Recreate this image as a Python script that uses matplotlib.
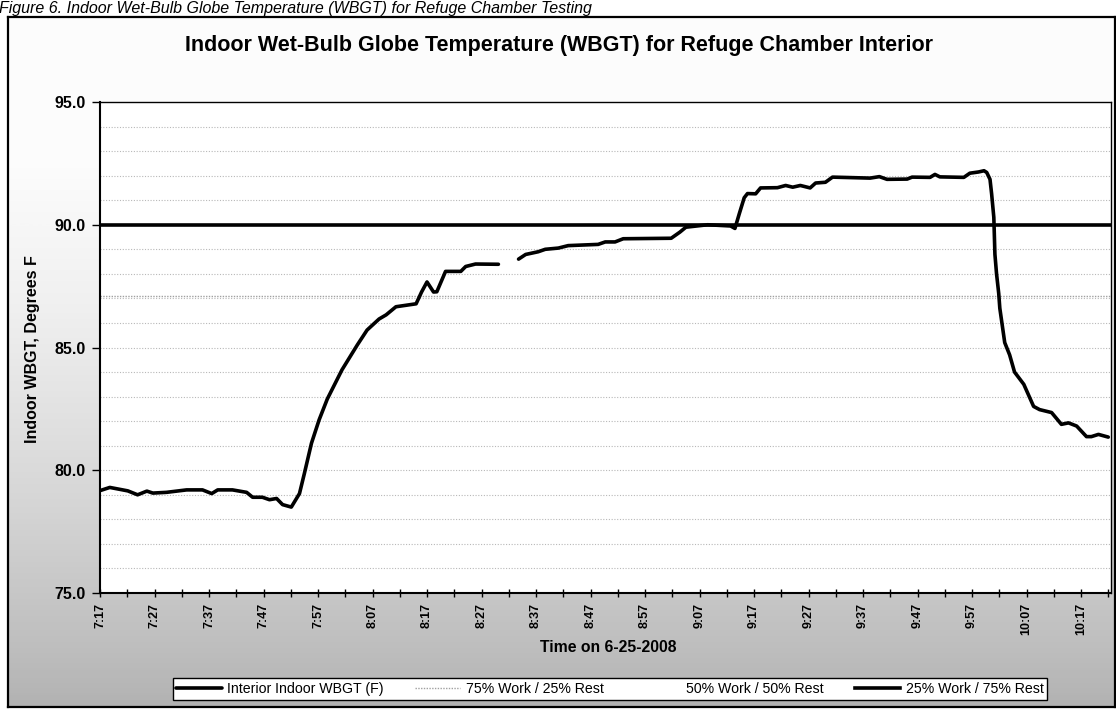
import numpy as np
import matplotlib
matplotlib.use("Agg")
import matplotlib.pyplot as plt

plt.rcParams['font.family'] = ['Liberation Sans', 'DejaVu Sans']

# ---------------- data ----------------
# minutes after 7:17 on 6-25-2008 and Interior Indoor WBGT (F)
minutes = [0, 1.8, 5.1, 6.9, 8.6, 9.7, 12.2, 15.9, 18.8, 20.5, 21.6, 24.3, 26.9, 28.0,
           29.8, 31.1, 32.4, 33.5, 35.1, 36.6, 37.5, 38.8, 40.2, 41.7, 44.4, 47.2, 49.0,
           51.2, 52.5, 54.3, 58.0, 59.0, 60.0, 61.2, 61.8, 63.4, 66.2, 67.1, 68.9, 73.1,
           75.0, 76.8, 78.1, 80.4, 81.7, 84.1, 85.9, 91.4, 92.7, 94.5, 96.0, 104.8, 106.4,
           107.5, 111.5, 115.7, 116.5, 117.3, 118.2, 118.8, 120.3, 121.2, 124.3, 125.8,
           127.1, 128.5, 130.3, 131.3, 133.1, 134.4, 141.3, 143.0, 144.4, 148.1, 149.0,
           152.3, 153.2, 154.1, 158.5, 159.6, 161.2, 162.2, 162.7, 163.3, 163.6, 164.0,
           164.2, 164.5, 164.9, 165.1, 166.0, 166.9, 167.8, 169.5, 171.3, 172.4, 174.6,
           176.4, 177.7, 179.2, 181.0, 181.9, 183.2, 185.0]
wbgt = [79.17, 79.3, 79.16, 79.0, 79.15, 79.07, 79.1, 79.2, 79.2, 79.05, 79.2, 79.2, 79.1, 78.9,
        78.9, 78.8, 78.85, 78.6, 78.5, 79.05, 79.87, 81.1, 82.05, 82.9, 84.09, 85.1, 85.71,
        86.16, 86.33, 86.66, 86.78, 87.26, 87.67, 87.26, 87.27, 88.1, 88.1, 88.3, 88.4, 88.39,
        np.nan, 88.6, 88.79, 88.9, 89.0, 89.05, 89.15, 89.2, 89.3, 89.3, 89.43, 89.45, 89.7,
        89.9, 90.0, 89.95, 89.85, 90.45, 91.1, 91.27, 91.26, 91.5, 91.51, 91.6,
        91.53, 91.6, 91.5, 91.7, 91.73, 91.94, 91.9, 91.96, 91.85, 91.86, 91.94,
        91.93, 92.05, 91.95, 91.93, 92.1, 92.15, 92.2, 92.13, 91.85, 91.25, 90.3,
        88.8, 88.0, 87.2, 86.6, 85.2, 84.7, 84.0, 83.5, 82.6, 82.47, 82.35,
        81.87, 81.93, 81.8, 81.37, 81.37, 81.46, 81.35]

limit_names = ["75% Work / 25% Rest", "50% Work / 50% Rest", "25% Work / 75% Rest"]
limit_values = [87.1, 88.5, 90.0]

tick_labels = ["7:17", "7:27", "7:37", "7:47", "7:57", "8:07", "8:17", "8:27", "8:37",
               "8:47", "8:57", "9:07", "9:17", "9:27", "9:37", "9:47", "9:57", "10:07", "10:17"]
y_ticks = [75.0, 80.0, 85.0, 90.0, 95.0]

# ---------------- figure ----------------
W, H = 1116, 711
fig = plt.figure(figsize=(W / 100, H / 100), dpi=100)
fig.patch.set_facecolor("white")

# chart-area gradient background (white top -> grey bottom)
bg = fig.add_axes([8 / W, 1 - 707 / H, (1115 - 8) / W, (707 - 17) / H])
grad = np.linspace(0, 1, 256)
grad = np.clip((grad - 0.2) / 0.8, 0, 1)
bg.imshow(grad[:, None], aspect="auto", cmap="Greys", vmin=-0.05, vmax=2.5,
          extent=[0, 1, 1, 0], interpolation="bilinear")
bg.set_xlim(0, 1); bg.set_ylim(1, 0)
bg.set_xticks([]); bg.set_yticks([])
for s in bg.spines.values():
    s.set_linewidth(1.6)
    s.set_color("black")
bg.set_zorder(0)

# caption line at top
fig.text(-1 / W, 1 - 1 / H,
         "Figure 6. Indoor Wet-Bulb Globe Temperature (WBGT) for Refuge Chamber Testing",
         fontsize=11.5, style="italic", ha="left", va="top", color="black")

# plot axes
L, R, T, B = 100, 1111, 102, 593
ax = fig.add_axes([L / W, 1 - B / H, (R - L) / W, (B - T) / H])
ax.set_zorder(2)
ax.set_facecolor("white")

x_max = 185.5
ax.set_xlim(0, x_max)
ax.set_ylim(75, 95)

# gridlines every degree
for g in np.arange(76, 95, 1.0):
    ax.axhline(g, color="#b8b8b8", lw=0.8, ls=(0, (1, 1.5)), zorder=1)

# limit lines
ax.axhline(limit_values[0], color="#a0a0a0", lw=1.0, ls=(0, (1, 1)), zorder=2, label=limit_names[0])
ax.axhline(limit_values[1], color="white", lw=1.0, zorder=2, label=limit_names[1])
ax.axhline(limit_values[2], color="black", lw=2.6, zorder=3, label=limit_names[2])

ax.plot(minutes, wbgt, color="black", lw=2.6, zorder=4, label="Interior Indoor WBGT (F)",
        solid_joinstyle="round", solid_capstyle="round")

ax.set_yticks(y_ticks)
ax.set_yticklabels([f"{v:.1f}" for v in y_ticks], fontweight="bold", fontsize=11.5)
ax.set_xticks([10 * i for i in range(len(tick_labels))])
ax.set_xticklabels(tick_labels, rotation=90, fontweight="bold", fontsize=9)
ax.set_xticks(np.arange(5, x_max, 10), minor=True)
ax.tick_params(axis="y", direction="out", length=6, width=1.0, pad=4)
ax.tick_params(axis="x", which="both", direction="inout", length=6, width=1.0, pad=4)

for name, s in ax.spines.items():
    s.set_color("black")
    s.set_linewidth(1.5 if name in ("left", "bottom") else 1.0)

fig.text(559 / W, 1 - 46 / H,
         "Indoor Wet-Bulb Globe Temperature (WBGT) for Refuge Chamber Interior",
         fontsize=15.5, fontweight="bold", ha="center", va="center")
fig.text(33 / W, 1 - 349 / H, "Indoor WBGT, Degrees F", rotation=90,
         fontsize=11.5, fontweight="bold", ha="center", va="center")
fig.text(608 / W, 1 - 648 / H, "Time on 6-25-2008",
         fontsize=11.3, fontweight="bold", ha="center", va="center")

# legend
handles, labels = ax.get_legend_handles_labels()
order = [3, 0, 1, 2]
leg = fig.legend([handles[i] for i in order], [labels[i] for i in order],
                 loc="center", bbox_to_anchor=(610 / W, 1 - 689 / H), ncol=4,
                 fontsize=10.2, frameon=True, fancybox=False, edgecolor="black",
                 framealpha=1, handlelength=3.2, handletextpad=0.4, columnspacing=2.2,
                 borderpad=0.25)
leg.get_frame().set_linewidth(1.0)
leg.set_zorder(5)

fig.savefig("out.png", dpi=100)
